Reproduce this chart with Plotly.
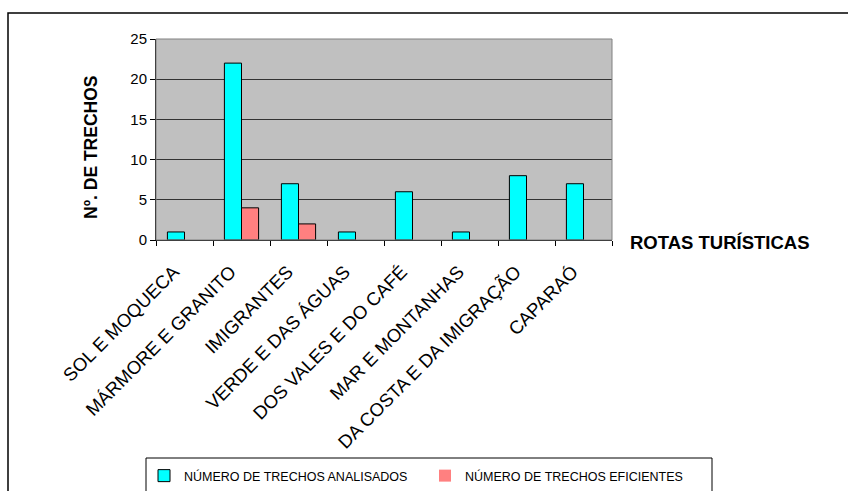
import plotly.graph_objects as go

categories = ["SOL E MOQUECA", "MÁRMORE E GRANITO", "IMIGRANTES", "VERDE E DAS ÁGUAS",
              "DOS VALES E DO CAFÉ", "MAR E MONTANHAS", "DA COSTA E DA IMIGRAÇÃO", "CAPARAÓ"]
analisados = [1, 22, 7, 1, 6, 1, 8, 7]
eficientes = [0, 4, 2, 0, 0, 0, 0, 0]
y_ticks = [0, 5, 10, 15, 20, 25]

W, H = 848, 491
L, R, T, B = 156, 612, 39, 240  # plot area in pixels


def px(x):
    return (x - L) / (R - L)


def py(y):
    return (B - y) / (B - T)


def outline(vals):
    # no outline on empty (zero-height) bars, as in the original
    return [0 if v == 0 else 1 for v in vals]


FONT = "Liberation Sans, Arial, sans-serif"

fig = go.Figure()
fig.add_trace(go.Bar(x=categories, y=analisados, name="NÚMERO DE TRECHOS ANALISADOS",
                     marker=dict(color="#00FFFF", line=dict(color="#000000", width=outline(analisados)))))
fig.add_trace(go.Bar(x=categories, y=eficientes, name="NÚMERO DE TRECHOS EFICIENTES",
                     marker=dict(color="#FF8080", line=dict(color="#000000", width=outline(eficientes)))))

shapes = [
    # outer chart border
    dict(type="rect", xref="paper", yref="paper", x0=px(8), x1=px(900), y0=py(560), y1=py(13),
         line=dict(color="#000000", width=1.5), layer="below"),
    # plot-area border
    dict(type="rect", xref="paper", yref="paper", x0=0, x1=1, y0=0, y1=1,
         line=dict(color="#808080", width=1)),
    # legend box
    dict(type="rect", xref="paper", yref="paper", x0=px(146), x1=px(712), y0=py(560), y1=py(458),
         line=dict(color="#000000", width=1)),
]

annotations = [
    dict(text="<b>Nº. DE TRECHOS</b>", xref="paper", yref="paper", x=px(91), y=py(147),
         textangle=-90, showarrow=False, xanchor="center", yanchor="middle",
         font=dict(family=FONT, size=17.5, color="#000000")),
    dict(text="<b>ROTAS TURÍSTICAS</b>", xref="paper", yref="paper", x=px(628), y=py(242),
         showarrow=False, xanchor="left", yanchor="middle",
         font=dict(family=FONT, size=18.5, color="#000000")),
]

fig.update_layout(
    width=W, height=H,
    margin=dict(l=L, r=W - R, t=T, b=H - B, pad=0, autoexpand=False),
    paper_bgcolor="#FFFFFF",
    plot_bgcolor="#C0C0C0",
    barmode="group",
    bargap=0.4,
    bargroupgap=0,
    font=dict(family=FONT, color="#000000"),
    shapes=shapes,
    annotations=annotations,
    showlegend=True,
    legend=dict(orientation="h", x=px(144), y=py(461), xanchor="left", yanchor="top",
                font=dict(family=FONT, size=12.5, color="#000000"),
                bgcolor="rgba(0,0,0,0)", borderwidth=0,
                entrywidth=236, entrywidthmode="pixels", traceorder="normal"),
)

fig.update_yaxes(range=[0, 25], tickvals=y_ticks, ticks="outside", ticklen=5, tickcolor="#000000",
                 showline=True, linecolor="#000000", linewidth=1,
                 showgrid=True, gridcolor="#333333", gridwidth=1, automargin=False,
                 zeroline=False, tickfont=dict(family=FONT, size=15, color="#000000"))
fig.update_xaxes(ticks="outside", ticklen=5, tickcolor="#000000", tickson="boundaries",
                 showline=True, linecolor="#000000", linewidth=1, showgrid=False,
                 tickmode="array", tickvals=categories,
                 ticktext=[c + "\u00a0\u00a0\u00a0" for c in categories],
                 tickangle=-45, ticklabelstandoff=2, automargin=False,
                 tickfont=dict(family=FONT, size=18.5, color="#000000"))

fig.write_html("out.html")
